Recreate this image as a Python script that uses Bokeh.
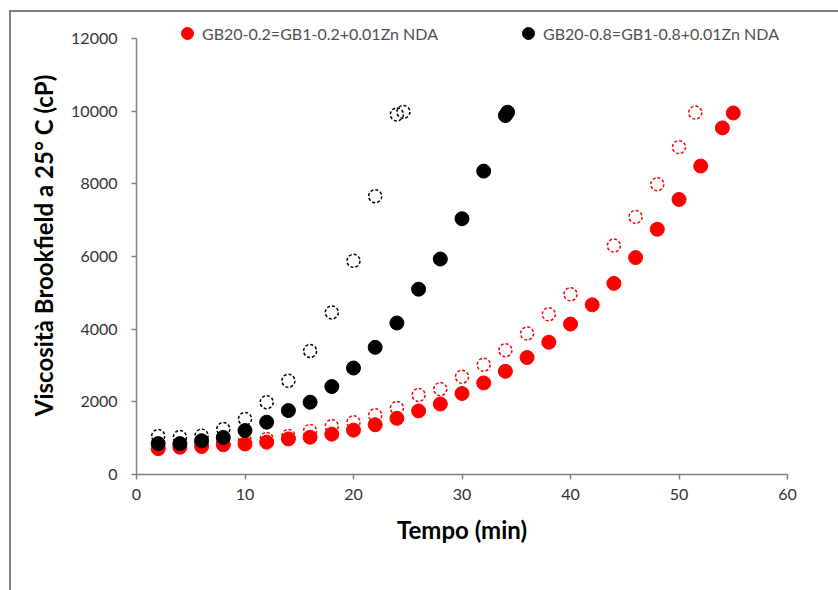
from bokeh.plotting import figure
from bokeh.models import Range1d, Legend, LegendItem, FixedTicker, InlineStyleSheet
from bokeh.embed import file_html
from bokeh.resources import INLINE

# ---- data ----
red_filled_t = [2, 4, 6, 8, 10, 12, 14, 16, 18, 20, 22, 24, 26, 28, 30, 32, 34, 36, 38, 40,
                42, 44, 46, 48, 50, 52, 54, 55]
red_filled_v = [710, 750, 770, 820, 840, 890, 980, 1025, 1110, 1220, 1370, 1545, 1750, 1940,
                2230, 2520, 2840, 3220, 3640, 4140, 4670, 5260, 5970, 6750, 7570, 8490, 9540, 9950]

red_open_t = [2, 4, 6, 8, 10, 12, 14, 16, 18, 20, 22, 24, 26, 28, 30, 32, 34, 36, 38, 40,
              44, 46, 48, 50, 51.5]
red_open_v = [760, 800, 830, 870, 920, 980, 1060, 1200, 1330, 1440, 1630, 1830, 2190, 2350,
              2690, 3020, 3420, 3880, 4410, 4960, 6300, 7090, 7990, 9010, 9960]

black_filled_t = [2, 4, 6, 8, 10, 12, 14, 16, 18, 20, 22, 24, 26, 28, 30, 32, 34, 34.2]
black_filled_v = [850, 850, 930, 1020, 1210, 1440, 1760, 1990, 2420, 2930, 3500, 4170, 5100,
                  5930, 7040, 8350, 9880, 9970]

black_open_t = [2, 4, 6, 8, 10, 12, 14, 16, 18, 20, 22, 24, 24.6]
black_open_v = [1060, 1030, 1070, 1250, 1530, 1990, 2580, 3400, 4460, 5880, 7660, 9910, 9980]

x_ticks = [0, 10, 20, 30, 40, 50, 60]
y_ticks = [0, 2000, 4000, 6000, 8000, 10000, 12000]
y_axis_max = 12000

series_labels = ["GB20-0.2=GB1-0.2+0.01Zn NDA", "GB20-0.8=GB1-0.8+0.01Zn NDA"]
x_title = "Tempo (min)"
y_title = "Viscosità Brookfield a 25° C (cP)"

RED = "#ff0000"
BLACK = "#000000"
GREY = "#808080"

# layout: axis 0..12000 spans canvas y 474..38; frame extended upward to hold the legend
FRAME_BOTTOM = 474
AXIS_TOP = 38
FRAME_TOP = 16
y_end = y_axis_max * (FRAME_BOTTOM - FRAME_TOP) / (FRAME_BOTTOM - AXIS_TOP)

frame_css = InlineStyleSheet(css="""
:host { position: relative; }
:host::after {
  content: ''; position: absolute; left: 9px; top: 10px; width: 900px; height: 700px;
  border: 2px solid #808080; pointer-events: none; box-sizing: border-box;
}
""")

p = figure(width=838, height=590, output_backend="svg", toolbar_location=None,
           x_range=Range1d(0, 60), y_range=Range1d(0, y_end),
           min_border_left=136, min_border_right=51, min_border_top=FRAME_TOP,
           min_border_bottom=590 - FRAME_BOTTOM, stylesheets=[frame_css])
p.outline_line_color = None
p.background_fill_color = "white"
p.border_fill_color = "white"
p.xgrid.visible = False
p.ygrid.visible = False

ro = p.scatter(red_open_t, red_open_v, marker="circle", size=13, fill_color="white",
               fill_alpha=0, line_color=RED, line_width=1.5, line_dash="3 2")
bo = p.scatter(black_open_t, black_open_v, marker="circle", size=13, fill_color="white",
               fill_alpha=0, line_color=BLACK, line_width=1.5, line_dash="3 2")
rf = p.scatter(red_filled_t, red_filled_v, marker="circle", size=14, fill_color=RED,
               line_color=RED)
bf = p.scatter(black_filled_t, black_filled_v, marker="circle", size=14, fill_color=BLACK,
               line_color=BLACK)

for ax in (p.xaxis[0], p.yaxis[0]):
    ax.axis_line_color = GREY
    ax.axis_line_width = 1.5
    ax.major_tick_line_color = GREY
    ax.major_tick_line_width = 1.5
    ax.major_tick_in = 0
    ax.major_tick_out = 5
    ax.minor_tick_line_color = None
    ax.major_label_text_font = "Lato"
    ax.major_label_text_font_size = "16px"
    ax.major_label_text_color = "#333333"
    ax.axis_label_text_font = "Lato"
    ax.axis_label_text_font_style = "bold"
    ax.axis_label_text_font_size = "24px"
    ax.axis_label_text_color = "#000000"

p.xaxis[0].ticker = FixedTicker(ticks=x_ticks)
p.yaxis[0].ticker = FixedTicker(ticks=y_ticks)
p.yaxis[0].bounds = (0, y_axis_max)
p.xaxis[0].axis_label = x_title
p.yaxis[0].axis_label = y_title
p.xaxis[0].major_label_standoff = 9
p.yaxis[0].major_label_standoff = 14
p.xaxis[0].axis_label_standoff = 12
p.yaxis[0].axis_label_standoff = 10

legend = Legend(items=[LegendItem(label=series_labels[0], renderers=[rf]),
                       LegendItem(label=series_labels[1], renderers=[bf])],
                orientation="horizontal", location=(36, 426),
                spacing=75, glyph_width=30, glyph_height=30, label_standoff=0,
                label_text_font="Lato", label_text_font_size="16px",
                label_text_color="#505050", background_fill_alpha=0,
                border_line_color=None, padding=0, margin=0)
p.add_layout(legend, "center")

open("out.html", "w").write(file_html(p, INLINE))
